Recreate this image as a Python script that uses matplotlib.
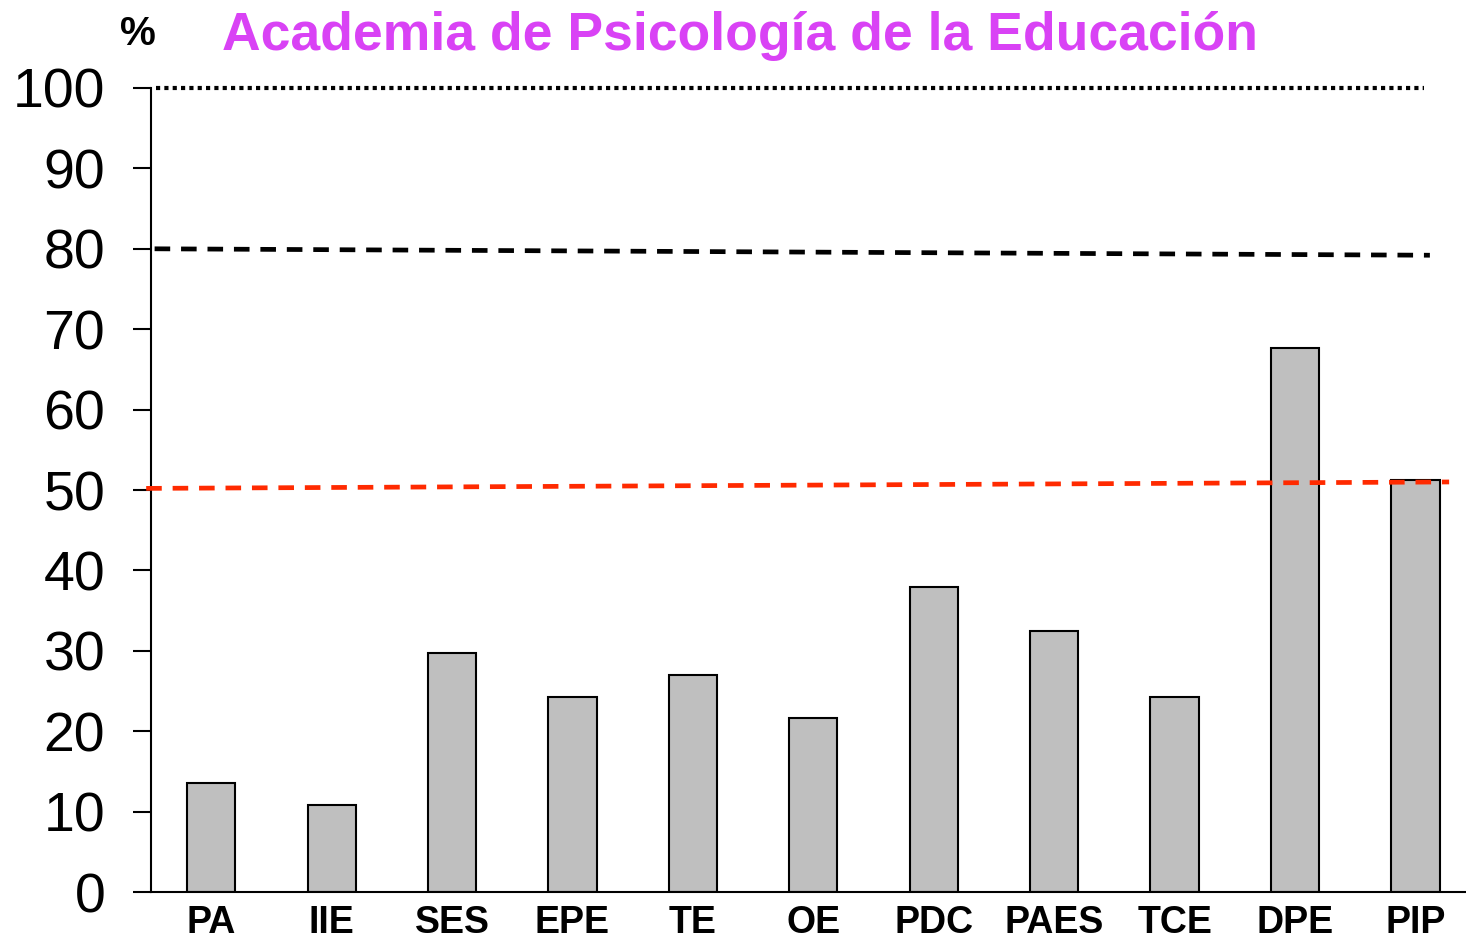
import numpy as np
from matplotlib import pyplot as plt

# data
categories = ['PA', 'IIE', 'SES', 'EPE', 'TE', 'OE', 'PDC', 'PAES', 'TCE', 'DPE', 'PIP']
values = [13.5, 10.8, 29.7, 24.3, 27.0, 21.6, 37.9, 32.5, 24.3, 67.6, 51.3]
y_ticks = [0, 10, 20, 30, 40, 50, 60, 70, 80, 90, 100]

# reference lines: (start level, end level)
top_line = (100, 100)
black_line = (80.0, 79.2)
red_line = (50.2, 51.0)

title = 'Academia de Psicología de la Educación'

plt.rcParams['font.family'] = ['Liberation Sans', 'DejaVu Sans']

fig = plt.figure(figsize=(14.66, 9.38), dpi=100)
ax = fig.add_axes([151/1466, 1 - 892/938, 1 - 151/1466, (892 - 88)/938])

x = np.arange(len(categories))
ax.bar(x, values, width=0.4, color='#bfbfbf', edgecolor='black', linewidth=1.5, zorder=2)

ax.plot([-0.46, 10.07], top_line, color='black', linestyle=(0, (1, 1)), linewidth=3,
        clip_on=False, zorder=3)
ax.plot([-0.47, 10.12], black_line, color='black', linestyle=(0, (3.3, 2.3)), linewidth=3.4,
        clip_on=False, zorder=3)
ax.plot([-0.54, 10.28], red_line, color='#ff2a00', linestyle=(0, (3.3, 2.3)), linewidth=3.4,
        clip_on=False, zorder=3)

ax.set_xlim(-0.5, 10.42)
ax.set_ylim(0, 100)
ax.set_yticks(y_ticks)
ax.set_xticks(x)
ax.set_xticklabels(categories, fontsize=27, fontweight='bold')
ax.tick_params(axis='y', labelsize=40, length=13, width=1.5, pad=20)
ax.tick_params(axis='x', length=0, pad=9)

ax.spines['top'].set_visible(False)
ax.spines['right'].set_visible(False)
ax.spines['left'].set_linewidth(1.5)
ax.spines['bottom'].set_linewidth(1.5)

fig.text(0.505, 1 - 50/938, title, color='#d942f5', fontsize=38.5, fontweight='bold',
         ha='center', va='baseline')
fig.text(138/1466, 1 - 45/938, '%', color='black', fontsize=29, fontweight='bold',
         ha='center', va='baseline')

plt.savefig('out.png', dpi=100)
